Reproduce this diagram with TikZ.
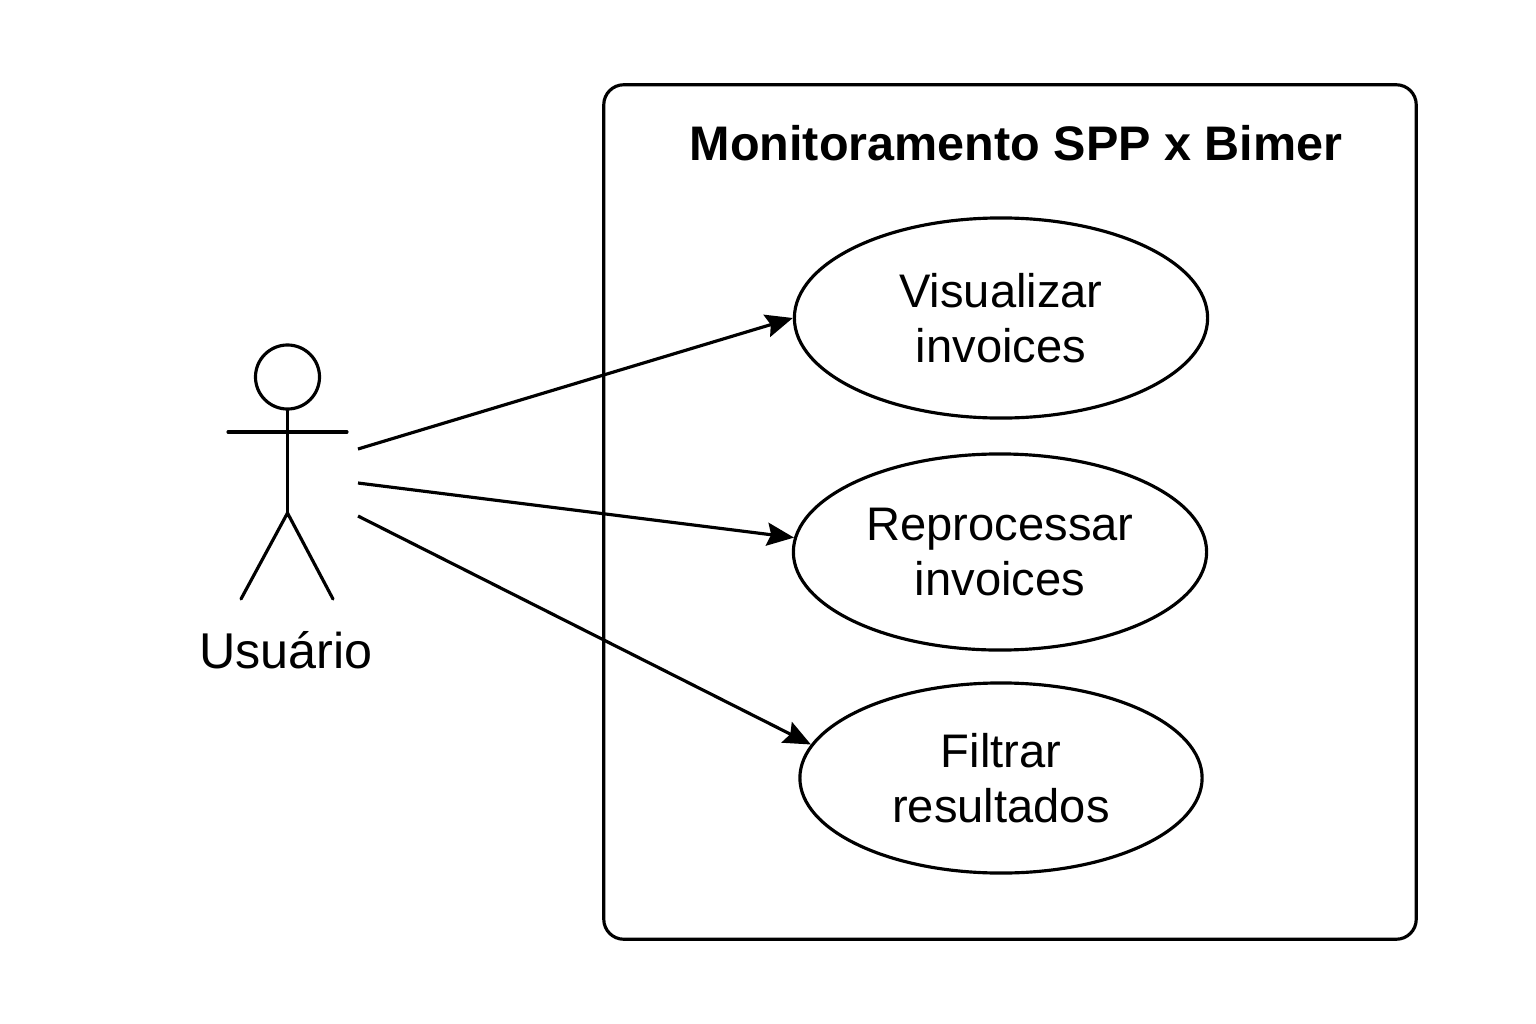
\documentclass[tikz,border=0pt]{standalone}
\usepackage{fontspec}
\setmainfont{Liberation Sans}
\usetikzlibrary{calc, shapes.geometric, arrows.meta, positioning}

\begin{document}
\begin{tikzpicture}[x=0.01cm, y=-0.01cm, >=Latex]
    \tikzstyle{system} = [rectangle, draw=black, line width=0.9pt, rounded corners=0.2cm, minimum width=8.12cm, minimum height=8.54cm]
    \tikzstyle{usecase} = [ellipse, draw=black, line width=0.9pt, align=center, inner sep=0pt, font=\fontsize{13.4}{15.8}\selectfont]
    \tikzstyle{limb} = [line width=0.9pt, line cap=round]
    \tikzstyle{assoc} = [->, line width=0.9pt, >={Stealth[length=0.27cm, width=0.23cm, inset=0.04cm]}]

    \useasboundingbox (0,0) rectangle (1536,1024);

    \node [system] (box) at (1010,512) {};
    \node [font=\fontsize{13.8}{16}\selectfont\bfseries] (title) at (1016,143) {Monitoramento SPP x Bimer};

    \node [usecase, minimum width=4.13cm, minimum height=2.0cm] (view) at (1001,318) {Visualizar\\invoices};
    \node [usecase, minimum width=4.13cm, minimum height=1.96cm] (redo) at (1000,552) {Reprocessar\\invoices};
    \node [usecase, minimum width=4.02cm, minimum height=1.9cm] (filter) at (1001,778) {Filtrar\\resultados};

    % Actor
    \node [circle, draw=black, line width=0.9pt, minimum size=0.64cm, inner sep=0pt] (head) at (287.5,377) {};
    \coordinate (armL) at (228,432);
    \coordinate (armR) at (347,432);
    \coordinate (hip) at (287.5,513);
    \coordinate (legL) at (241,599);
    \coordinate (legR) at (333,599);
    \draw [limb] (head.south) -- (hip);
    \draw [limb] (armL) -- (armR);
    \draw [limb] (legL) -- (hip) -- (legR);
    \node [font=\fontsize{14.3}{16}\selectfont] (user) at (286,650) {Usuário};

    % Associations
    \coordinate (from1) at (358,449);
    \coordinate (from2) at (358,483);
    \coordinate (from3) at (358,516);
    \draw [assoc] (from1) -- (view.west);
    \draw [assoc] (from2) -- (redo.176.7);
    \draw [assoc] (from3) -- (filter.170.7);
\end{tikzpicture}
\end{document}
